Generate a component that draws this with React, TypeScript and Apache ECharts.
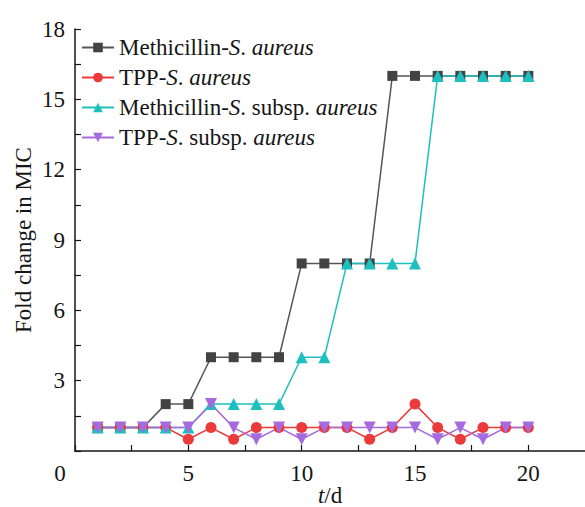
import React, { useEffect, useRef } from "react";
import * as echarts from "echarts";

const days = [1, 2, 3, 4, 5, 6, 7, 8, 9, 10, 11, 12, 13, 14, 15, 16, 17, 18, 19, 20];
const methSA = [1, 1, 1, 2, 2, 4, 4, 4, 4, 8, 8, 8, 8, 16, 16, 16, 16, 16, 16, 16];
const tppSA = [1, 1, 1, 1, 0.5, 1, 0.5, 1, 1, 1, 1, 1, 0.5, 1, 2, 1, 0.5, 1, 1, 1];
const methSub = [1, 1, 1, 1, 1, 2, 2, 2, 2, 4, 4, 8, 8, 8, 8, 16, 16, 16, 16, 16];
const tppSub = [1, 1, 1, 1, 1, 2, 1, 0.5, 1, 0.5, 1, 1, 1, 1, 1, 0.5, 1, 0.5, 1, 1];

const seriesNames = [
  "Methicillin-S. aureus",
  "TPP-S. aureus",
  "Methicillin-S. subsp. aureus",
  "TPP-S. subsp. aureus",
];
const legendRich: Record<string, string> = {
  "Methicillin-S. aureus": "{n|Methicillin-}{i|S}{n|. }{i|aureus}",
  "TPP-S. aureus": "{n|TPP-}{i|S}{n|. }{i|aureus}",
  "Methicillin-S. subsp. aureus": "{n|Methicillin-}{i|S}{n|. subsp. }{i|aureus}",
  "TPP-S. subsp. aureus": "{n|TPP-}{i|S}{n|. subsp. }{i|aureus}",
};

const FONT = "'Liberation Serif', 'Times New Roman', serif";
const FS = 23;
const INK = "#151515";

export default function App() {
  const ref = useRef<HTMLDivElement>(null);
  useEffect(() => {
    if (!ref.current) return;
    const chart = echarts.init(ref.current, undefined, { renderer: "svg" });
    const pair = (vals: number[]) => days.map((d, i) => [d, vals[i]]);
    const mk = (
      name: string,
      vals: number[],
      color: string,
      lineColor: string,
      symbol: string,
      size: number,
      rotate = 0
    ) => ({
      name,
      type: "line",
      data: pair(vals),
      symbol,
      symbolSize: size,
      symbolRotate: rotate,
      showAllSymbol: true,
      lineStyle: { color: lineColor, width: 1.5 },
      itemStyle: { color, opacity: 1 },
      emphasis: { disabled: true },
    });
    const rich = {
      n: { fontFamily: FONT, fontSize: FS, color: INK },
      i: { fontFamily: FONT, fontSize: FS, color: INK, fontStyle: "italic" },
    };
    const nameRich = {
      n: { fontFamily: FONT, fontSize: FS, color: INK, lineHeight: 22 },
      i: { fontFamily: FONT, fontSize: FS, color: INK, fontStyle: "italic", lineHeight: 22 },
    };
    chart.setOption({
      animation: false,
      grid: {
        left: 75,
        right: 0,
        top: 29,
        bottom: 56,
        containLabel: false,
        outerBoundsMode: "none",
      },
      legend: {
        orient: "vertical",
        left: 76,
        top: 31,
        itemWidth: 32,
        itemHeight: 12,
        itemGap: 7,
        data: seriesNames,
        formatter: (n: string) => legendRich[n] || n,
        textStyle: { fontFamily: FONT, fontSize: FS, color: INK, rich },
      },
      xAxis: {
        type: "value",
        min: 0,
        max: 22.5,
        interval: 2.5,
        name: "{i|t}{n|/d}",
        nameLocation: "middle",
        nameGap: 33,
        nameMoveOverlap: false,
        nameTextStyle: { fontFamily: FONT, fontSize: FS, lineHeight: 22, rich: nameRich },
        splitLine: { show: false },
        axisLine: { onZero: false, lineStyle: { color: INK, width: 1.5 } },
        axisTick: { inside: true, length: 6, lineStyle: { color: INK, width: 1.2 } },
        axisLabel: {
          fontFamily: FONT,
          fontSize: FS,
          color: INK,
          margin: 11,
          showMaxLabel: false,
          formatter: (v: number) => {
            if (v === 0) return "{z|0}";
            return v % 5 === 0 ? String(v) : "";
          },
          rich: {
            z: { fontFamily: FONT, fontSize: FS, color: INK, padding: [0, 30, 0, 0] },
          },
        },
      },
      yAxis: {
        type: "value",
        min: 0,
        max: 18,
        interval: 1.5,
        name: "Fold change in MIC",
        nameLocation: "middle",
        nameGap: 40,
        nameMoveOverlap: false,
        nameTextStyle: { fontFamily: FONT, fontSize: FS, color: INK },
        splitLine: { show: false },
        axisLine: { show: true, lineStyle: { color: INK, width: 1.5 } },
        axisTick: { inside: true, length: 6, lineStyle: { color: INK, width: 1.2 } },
        axisLabel: {
          fontFamily: FONT,
          fontSize: FS,
          color: INK,
          margin: 10,
          formatter: (v: number) => (v !== 0 && v % 3 === 0 ? String(v) : ""),
        },
      },
      series: [
        mk(seriesNames[0], methSA, "#434343", "#555555", "rect", 10),
        mk(seriesNames[1], tppSA, "#EC3A3A", "#EC3A3A", "circle", 11),
        mk(seriesNames[2], methSub, "#1EBFBF", "#1EBFBF", "triangle", 12),
        mk(seriesNames[3], tppSub, "#A56BDE", "#A56BDE", "triangle", 12, 180),
      ],
    });
    return () => chart.dispose();
  }, []);
  return (
    <div
      ref={ref}
      style={{ position: "fixed", left: 0, top: 0, width: 585, height: 507, background: "#fff" }}
    />
  );
}
